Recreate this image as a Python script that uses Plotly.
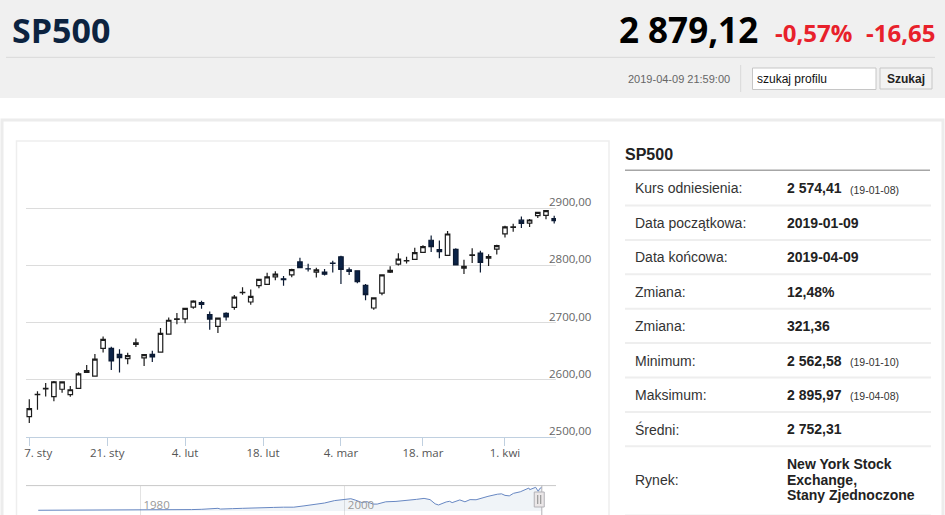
"""SP500 profile page: daily candles Jan-Apr 2019 with navigator and stats panel"""

import plotly.graph_objects as go

W, H = 945, 515

# daily candles
trade_dates = [
    "2019-01-07", "2019-01-08", "2019-01-09", "2019-01-10", "2019-01-11",
    "2019-01-14", "2019-01-15", "2019-01-16", "2019-01-17", "2019-01-18",
    "2019-01-22", "2019-01-23", "2019-01-24", "2019-01-25",
    "2019-01-28", "2019-01-29", "2019-01-30", "2019-01-31", "2019-02-01",
    "2019-02-04", "2019-02-05", "2019-02-06", "2019-02-07", "2019-02-08",
    "2019-02-11", "2019-02-12", "2019-02-13", "2019-02-14", "2019-02-15",
    "2019-02-19", "2019-02-20", "2019-02-21", "2019-02-22",
    "2019-02-25", "2019-02-26", "2019-02-27", "2019-02-28", "2019-03-01",
    "2019-03-04", "2019-03-05", "2019-03-06", "2019-03-07", "2019-03-08",
    "2019-03-11", "2019-03-12", "2019-03-13", "2019-03-14", "2019-03-15",
    "2019-03-18", "2019-03-19", "2019-03-20", "2019-03-21", "2019-03-22",
    "2019-03-25", "2019-03-26", "2019-03-27", "2019-03-28", "2019-03-29",
    "2019-04-01", "2019-04-02", "2019-04-03", "2019-04-04", "2019-04-05",
    "2019-04-08", "2019-04-09",
]
opens = [
    2535.6, 2574.0, 2584.0, 2570.5, 2583.5,
    2574.0, 2585.1, 2613.0, 2606.5, 2655.0,
    2655.0, 2644.5, 2637.0, 2662.0,
    2638.5, 2644.5, 2648.5, 2680.0, 2705.5,
    2706.5, 2727.0, 2735.0, 2714.0, 2693.5,
    2716.0, 2726.5, 2752.5, 2736.0, 2764.5,
    2767.0, 2780.0, 2776.5, 2783.5,
    2806.0, 2794.0, 2788.3, 2788.2, 2804.0,
    2815.0, 2792.3, 2790.5, 2765.0, 2725.5,
    2751.5, 2788.3, 2802.3, 2808.0, 2810.5,
    2822.6, 2844.0, 2827.5, 2817.4, 2828.0,
    2795.3, 2817.5, 2821.5, 2812.8, 2828.3,
    2855.0, 2866.5, 2879.0, 2874.0, 2887.0,
    2887.5, 2882.0,
]
highs = [
    2566.2, 2579.8, 2594.6, 2597.8, 2596.3,
    2589.3, 2613.1, 2625.8, 2645.1, 2675.5,
    2657.9, 2653.2, 2647.2, 2672.4,
    2645.0, 2650.9, 2690.4, 2708.9, 2716.7,
    2725.0, 2739.0, 2738.1, 2719.3, 2708.1,
    2718.1, 2748.2, 2761.9, 2757.9, 2775.7,
    2787.3, 2789.9, 2781.6, 2794.2,
    2813.5, 2803.1, 2795.8, 2793.7, 2808.0,
    2816.9, 2796.4, 2790.3, 2767.3, 2744.1,
    2784.0, 2798.3, 2821.2, 2815.0, 2830.7,
    2835.4, 2852.4, 2843.5, 2860.3, 2830.0,
    2809.8, 2829.9, 2825.6, 2819.7, 2836.0,
    2869.4, 2872.9, 2885.3, 2881.3, 2893.2,
    2896.0, 2886.9,
]
lows = [
    2524.6, 2547.6, 2571.0, 2562.6, 2577.4,
    2570.4, 2585.1, 2612.7, 2606.4, 2647.6,
    2617.3, 2612.9, 2627.0, 2657.3,
    2624.1, 2631.1, 2648.3, 2678.7, 2696.9,
    2698.8, 2724.0, 2724.2, 2687.3, 2681.8,
    2703.8, 2722.6, 2748.6, 2731.2, 2760.2,
    2767.3, 2774.1, 2764.6, 2779.1,
    2795.0, 2789.5, 2779.0, 2782.5, 2787.4,
    2767.7, 2783.0, 2768.7, 2739.1, 2722.3,
    2747.6, 2786.7, 2799.8, 2803.5, 2810.8,
    2822.0, 2823.3, 2812.4, 2817.4, 2800.5,
    2785.0, 2804.0, 2787.7, 2798.8, 2819.2,
    2848.6, 2858.8, 2865.2, 2867.1, 2883.0,
    2880.8, 2873.3,
]
closes = [
    2549.7, 2574.4, 2585.0, 2596.6, 2596.3,
    2582.6, 2610.3, 2616.1, 2636.0, 2670.7,
    2632.9, 2638.7, 2642.3, 2664.8,
    2643.9, 2640.0, 2681.1, 2704.1, 2706.5,
    2724.9, 2737.7, 2731.6, 2706.1, 2707.9,
    2709.8, 2744.7, 2753.0, 2745.7, 2775.6,
    2779.8, 2784.7, 2774.9, 2792.7,
    2796.1, 2793.9, 2792.4, 2784.5, 2803.7,
    2792.8, 2789.7, 2771.5, 2748.9, 2743.1,
    2783.3, 2791.5, 2810.9, 2808.5, 2822.5,
    2832.9, 2832.6, 2824.2, 2854.9, 2800.7,
    2798.4, 2818.5, 2805.4, 2815.4, 2834.4,
    2867.2, 2867.2, 2873.4, 2879.4, 2892.7,
    2895.8, 2878.2,
]

tick_dates = ["2019-01-07", "2019-01-21", "2019-02-04", "2019-02-18",
              "2019-03-04", "2019-03-18", "2019-04-01"]
tick_labels = ["7. sty", "21. sty", "4. lut", "18. lut", "4. mar", "18. mar", "1. kwi"]
price_ticks = [2500, 2600, 2700, 2800, 2900, 3000]

# long history shown in the navigator
nav_dates = [
    "1970-01-01", "1971-01-01", "1972-01-01", "1973-01-01", "1974-01-01",
    "1975-01-01", "1976-01-01", "1977-01-01", "1978-01-01", "1979-01-01",
    "1980-01-01", "1981-01-01", "1982-01-01", "1983-01-01", "1984-01-01",
    "1985-01-01", "1986-01-01", "1987-01-01", "1987-08-01", "1987-11-01",
    "1988-01-01", "1989-01-01", "1990-01-01", "1991-01-01", "1992-01-01",
    "1993-01-01", "1994-01-01", "1995-01-01", "1996-01-01", "1997-01-01",
    "1998-01-01", "1999-01-01", "1999-07-01", "2000-01-01", "2000-08-01",
    "2001-01-01", "2001-09-01", "2002-03-01", "2002-10-01", "2003-03-01",
    "2004-01-01", "2005-01-01", "2006-01-01", "2007-01-01", "2007-10-01",
    "2008-05-01", "2008-11-01", "2009-03-01", "2009-12-01", "2010-04-01",
    "2010-07-01", "2011-04-01", "2011-10-01", "2012-04-01", "2012-11-01",
    "2013-06-01", "2014-01-01", "2014-12-01", "2015-05-01", "2015-09-01",
    "2016-02-01", "2016-07-01", "2017-03-01", "2018-01-01", "2018-02-01",
    "2018-09-01", "2018-12-01", "2019-02-01", "2019-04-09",
]
nav_values = [
    92, 95, 103, 118, 97,
    72, 96, 103, 90, 99,
    110, 130, 120, 145, 165,
    175, 210, 260, 330, 240,
    255, 290, 330, 340, 410,
    440, 470, 470, 630, 780,
    980, 1280, 1370, 1400, 1510,
    1350, 1040, 1150, 850, 850,
    1130, 1180, 1280, 1430, 1550,
    1400, 880, 740, 1115, 1190,
    1030, 1360, 1130, 1400, 1380,
    1620, 1800, 2060, 2110, 1920,
    1860, 2170, 2360, 2820, 2620,
    2910, 2420, 2790, 2879,
]
nav_ticks = ["1980-01-01", "2000-01-01"]

stat_labels = ["Kurs odniesienia:", "Data początkowa:", "Data końcowa:", "Zmiana:",
               "Zmiana:", "Minimum:", "Maksimum:", "Średni:"]
stat_values = ["2 574,41", "2019-01-09", "2019-04-09", "12,48%",
               "321,36", "2 562,58", "2 895,97", "2 752,31"]
stat_dates = ["(19-01-08)", "", "", "", "", "(19-01-10)", "(19-04-08)", ""]
market_label = "Rynek:"
market_lines = ["New York Stock", "Exchange,", "Stany Zjednoczone"]

ticker = "SP500"
last_price = "2 879,12"
change_pct = "-0,57%"
change_abs = "-16,65"
quote_time = "2019-04-09 21:59:00"


def px(x):
    return x / W


def py(y):
    return 1 - y / H


def ordinal_pos(day):
    """position of a calendar day on the trading-day axis"""
    if day in trade_dates:
        return trade_dates.index(day)
    nxt = next(i for i, d in enumerate(trade_dates) if d > day)
    return nxt - 0.5


def text(x, y, s, size, color="#333333", family="Liberation Sans, Arial",
         weight="normal", anchor="left"):
    # annotations carry ~2px of inner padding; compensate so x is the glyph edge
    nudge = {"left": -2, "right": 2, "center": 0}[anchor]
    return dict(x=px(x + nudge), y=py(y), xref="paper", yref="paper", text=s,
                showarrow=False, xanchor=anchor, yanchor="middle",
                font=dict(size=size, color=color, family=family, weight=weight))


def rect(x0, y0, x1, y1, fill="rgba(0,0,0,0)", line="rgba(0,0,0,0)", width=1):
    return dict(type="rect", xref="paper", yref="paper",
                x0=px(x0), x1=px(x1), y0=py(y0), y1=py(y1),
                fillcolor=fill, line=dict(color=line, width=width), layer="below")


def hline(x0, x1, y, color, width=1):
    return dict(type="line", xref="paper", yref="paper",
                x0=px(x0), x1=px(x1), y0=py(y), y1=py(y),
                line=dict(color=color, width=width))


def main():
    fig = go.Figure()

    fig.add_trace(go.Candlestick(
        x=list(range(len(trade_dates))),
        open=opens, high=highs, low=lows, close=closes,
        text=trade_dates, hoverinfo="text+y",
        increasing=dict(line=dict(color="#1c1c1c", width=1.2), fillcolor="#ffffff"),
        decreasing=dict(line=dict(color="#0b1a33", width=1.2), fillcolor="#0b2348"),
        whiskerwidth=0, showlegend=False,
        xaxis="x", yaxis="y",
    ))

    fig.add_trace(go.Scatter(
        x=nav_dates, y=nav_values, mode="lines",
        line=dict(color="#6787c2", width=1),
        fill="tozeroy", fillcolor="rgba(69,114,167,0.08)",
        showlegend=False, hoverinfo="skip",
        xaxis="x2", yaxis="y2",
    ))

    x_ticktext = list(tick_labels)
    x_ticktext[0] = "\u00a0" * 6 + x_ticktext[0]   # first label kept inside plot

    y_ticktext = [f"{v:.2f}".replace(".", ",") if v < max(price_ticks) else ""
                  for v in price_ticks]

    n = len(trade_dates)
    fig.update_layout(
        width=W, height=H,
        margin=dict(l=0, r=0, t=0, b=0, pad=0, autoexpand=False),
        paper_bgcolor="#ffffff", plot_bgcolor="rgba(0,0,0,0)",
        font=dict(family="Liberation Sans, Arial", size=12, color="#333333"),
        boxgap=0.22,
        xaxis=dict(
            domain=[px(26), px(556)], range=[-0.4, n - 1 + 0.22],
            tickvals=[ordinal_pos(d) for d in tick_dates], ticktext=x_ticktext,
            showgrid=False, zeroline=False, automargin=False,
            showline=True, linecolor="#C0D0E0", linewidth=1,
            ticks="outside", ticklen=8, tickcolor="#C0D0E0",
            tickfont=dict(family="Open Sans", size=11.5, color="#555555"),
            ticklabelstandoff=-3,
            rangeslider=dict(visible=False), fixedrange=True,
        ),
        yaxis=dict(
            domain=[py(437), py(151)], range=[2500, 3000],
            side="right", tickvals=price_ticks, ticktext=y_ticktext,
            showgrid=True, gridcolor="#dcdcdc", gridwidth=1,
            zeroline=False, showline=False, ticks="", automargin=False,
            tickfont=dict(family="Open Sans", size=11.5, color="#666666"),
            ticklabelshift=-6, ticklabelstandoff=-8, fixedrange=True,
        ),
        xaxis2=dict(
            domain=[px(26), px(556)], anchor="y2", type="date",
            range=["1968-10-20", "2020-08-28"],
            tickvals=nav_ticks, ticktext=[d[:4] for d in nav_ticks],
            ticklabelposition="inside right", ticks="",
            showgrid=True, gridcolor="#e3e3e3", gridwidth=1,
            showline=False, zeroline=False, automargin=False,
            tickfont=dict(family="Open Sans", size=11.5, color="#999999"),
            ticklabelshift=3, ticklabelstandoff=-2,
            fixedrange=True,
        ),
        yaxis2=dict(
            domain=[0, py(485.6)], anchor="x2", range=[-490, 3120],
            visible=False, fixedrange=True, automargin=False,
        ),
    )

    shapes = [
        rect(0, 0, W, 98, fill="#f0f0f0"),
        hline(6, 935, 57.3, "#d9d9d9"),
        dict(type="line", xref="paper", yref="paper", x0=px(740.7), x1=px(740.7),
             y0=py(65), y1=py(92), line=dict(color="#d9d9d9", width=1)),
        rect(752.5, 68, 876, 89.5, fill="#ffffff", line="#c6c6c6"),
        rect(880, 68, 932, 89, fill="#f2f2f2", line="#c6c6c6"),
        rect(2, 120, 943, 600, line="#ececec", width=3),
        rect(16.5, 141, 609, 600, line="#eeeeee", width=1.5),
        hline(625, 930, 170.2, "#a6a6a6", 1.5),
        hline(26, 556, 485.6, "#c8c8c8", 1),
        # navigator selection edge and handle
        dict(type="line", xref="x2", yref="paper", x0=trade_dates[-1], x1=trade_dates[-1],
             y0=0, y1=py(485.6), line=dict(color="#b2b1b6", width=1)),
        dict(type="rect", xref="x2", yref="paper", xsizemode="pixel",
             xanchor=trade_dates[0], x0=-5, x1=5, y0=py(507), y1=py(492),
             fillcolor="#ebe7e8", line=dict(color="#b2b1b6", width=1)),
        dict(type="line", xref="x2", yref="paper", xsizemode="pixel",
             xanchor=trade_dates[0], x0=-1.5, x1=-1.5, y0=py(504), y1=py(495),
             line=dict(color="#888888", width=1)),
        dict(type="line", xref="x2", yref="paper", xsizemode="pixel",
             xanchor=trade_dates[0], x0=1.5, x1=1.5, y0=py(504), y1=py(495),
             line=dict(color="#888888", width=1)),
    ]

    # stats table rows
    row_step = 34.4
    row_y = [188.5 + i * row_step for i in range(len(stat_labels))]
    for y in row_y:
        shapes.append(hline(625, 931, y + 17, "#eeeeee", 2))
    shapes.append(hline(625, 931, 515.6, "#eeeeee", 2))

    annotations = [
        text(12, 30, ticker, 34, color="#0c2340", family="Open Sans", weight="bold"),
        text(758, 30, last_price, 35, color="#000000", family="Open Sans", weight="bold",
             anchor="right"),
        text(852, 32, change_pct, 24, color="#e8212b", family="Open Sans", weight="bold",
             anchor="right"),
        text(935, 32, change_abs, 24, color="#e8212b", family="Open Sans", weight="bold",
             anchor="right"),
        text(730, 78.5, quote_time, 11, color="#666666", anchor="right"),
        text(757, 78.5, "szukaj profilu", 12, color="#111111"),
        text(906, 78.5, "Szukaj", 12, color="#222222", weight="bold", anchor="center"),
        text(625, 154.4, ticker, 16, color="#222222", weight="bold"),
    ]
    for lab, val, dt, y in zip(stat_labels, stat_values, stat_dates, row_y):
        annotations.append(text(635, y, lab, 14, color="#333333"))
        annotations.append(text(787, y, val, 14, color="#222222", weight="bold"))
        if dt:
            annotations.append(text(850, y + 1, dt, 10.5, color="#333333"))

    market_y = 479.5
    annotations.append(text(635, market_y, market_label, 14, color="#333333"))
    for j, line in enumerate(market_lines):
        annotations.append(text(787, market_y - 15.7 + j * 15.7, line, 14,
                                color="#222222", weight="bold"))

    fig.update_layout(shapes=shapes, annotations=annotations)

    # page has a default body margin; drop it so the figure sits at 0,0
    fig.write_html("out.html",
                   config={"displayModeBar": False},
                   post_script="document.body.style.margin='0px';"
                               "document.body.style.overflow='hidden';")


if __name__ == "__main__":
    main()
